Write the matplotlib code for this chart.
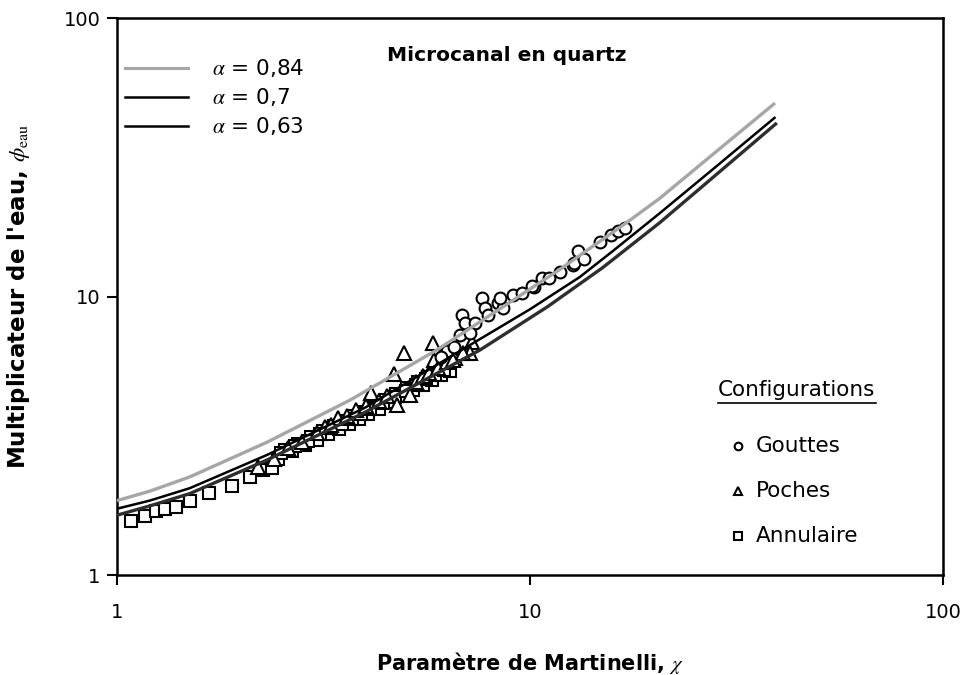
import matplotlib
matplotlib.use('Agg')
import matplotlib.pyplot as plt
from matplotlib.ticker import NullLocator, FixedLocator, FixedFormatter

plt.rcParams['font.family'] = ['DejaVu Sans']
plt.rcParams['mathtext.fontset'] = 'stix'

# ---- model curves ----
curve_labels = [r'$\alpha$ = 0,84', r'$\alpha$ = 0,7', r'$\alpha$ = 0,63']
x_084 = [1, 1.2, 1.5, 2.31, 3.67, 5.95, 8.5, 11.8, 17.2, 20.6, 28, 39.2]
y_084 = [1.85, 2.0, 2.25, 3.0, 4.25, 6.43, 9.08, 12.5, 18.5, 22.5, 32.8, 49.5]
x_070 = [1, 1.2, 1.5, 2.31, 4, 7.5, 10, 13.2, 15.9, 20.6, 28, 39.3]
y_070 = [1.73, 1.85, 2.05, 2.70, 4.0, 6.98, 9.0, 11.75, 14.6, 19.9, 29.0, 44.1]
x_063 = [1, 1.2, 1.5, 2.31, 4, 7.57, 11, 15, 20.6, 28, 39.6]
y_063 = [1.64, 1.77, 1.96, 2.59, 3.85, 6.43, 9.17, 12.7, 18.4, 27.1, 42.0]

# ---- measurements ----
config_labels = ['Gouttes', 'Poches', 'Annulaire']
x_gouttes = [6.83, 6.96, 7.36, 6.77, 7.16, 7.64, 7.78, 7.91, 8.37, 8.60, 9.10, 9.57,
             10.2, 10.7, 11.1, 11.8, 12.7, 12.8, 13.1, 13.5, 14.8, 15.7, 16.3, 17.0,
             10.1, 8.46, 6.3, 6.55, 6.1]
y_gouttes = [8.58, 8.01, 8.01, 7.28, 7.39, 9.85, 9.10, 8.58, 9.48, 9.10, 10.1, 10.3,
             10.8, 11.7, 11.7, 12.2, 13.0, 13.2, 14.6, 13.6, 15.7, 16.6, 17.2, 17.6,
             10.9, 9.85, 6.35, 6.6, 6.05]

x_poches = [4.95, 5.82, 4.69, 4.12, 5.86, 7.24, 7.16, 5.12, 4.76, 3.43, 3.19, 3.05,
            2.2, 2.4, 2.6, 2.8, 3.3, 3.6, 3.8, 4.0, 4.3, 4.5, 5.3, 5.5, 5.7, 6.0,
            6.3, 6.6, 6.9, 6.5]
y_poches = [6.27, 6.81, 5.27, 4.50, 5.92, 6.87, 6.27, 4.43, 4.08, 3.66, 3.40, 3.24,
            2.45, 2.62, 2.85, 3.0, 3.45, 3.72, 3.9, 4.05, 4.2, 4.4, 4.95, 5.2, 5.3, 5.55,
            5.8, 6.0, 6.25, 5.9]

x_annulaire = [1.08, 1.17, 1.24, 1.31, 1.39, 1.50, 1.67, 1.90, 2.10, 2.26, 2.37,
               2.45, 2.55, 2.65, 2.75, 2.85, 2.95, 3.05, 3.15, 3.25, 3.35, 3.45, 3.55,
               3.65, 3.75, 3.85, 3.95, 4.05, 4.15, 4.3, 4.45, 4.6, 4.75, 4.9, 5.05,
               5.2, 5.35, 5.5, 5.65, 5.8, 5.95, 6.1, 6.25, 6.4,
               2.5, 2.7, 2.9, 3.1, 3.3, 3.5, 3.7, 3.9, 4.1, 4.4, 4.7, 5.0, 5.3, 5.6,
               5.9, 6.2]
y_annulaire = [1.56, 1.63, 1.70, 1.73, 1.76, 1.85, 1.97, 2.09, 2.25, 2.38, 2.42,
               2.62, 2.80, 2.78, 2.96, 2.92, 3.12, 3.06, 3.28, 3.20, 3.42, 3.35, 3.58,
               3.50, 3.72, 3.62, 3.86, 3.78, 4.02, 3.96, 4.25, 4.18, 4.48, 4.40, 4.70,
               4.60, 4.92, 4.82, 5.12, 5.02, 5.34, 5.22, 5.52, 5.40,
               2.74, 2.90, 3.04, 3.20, 3.36, 3.50, 3.64, 3.80, 3.94, 4.14, 4.36, 4.58,
               4.80, 5.04, 5.24, 5.46]

x_ticks = [1, 10, 100]
y_ticks = [1, 10, 100]
tick_labels = ['1', '10', '100']

fig = plt.figure(figsize=(9.66, 6.75), dpi=100)
ax = fig.add_axes([0.1211, 0.1481, 0.8551, 0.8252])
ax.set_xscale('log')
ax.set_yscale('log')

mk = dict(linestyle='none', mfc='white', mec='black', mew=1.5, zorder=3)
ax.plot(x_annulaire, y_annulaire, marker='s', ms=8.5, **mk)
ax.plot(x_poches, y_poches, marker='^', ms=9.5, **mk)
ax.plot(x_gouttes, y_gouttes, marker='o', ms=8.5, **mk)

grey = '#a6a6a6'
ax.plot(x_084, y_084, color=grey, lw=2.4, zorder=4, solid_capstyle='butt')
ax.plot(x_063, y_063, color='#2e2e2e', lw=2.4, zorder=4, solid_capstyle='butt')
ax.plot(x_070, y_070, color='black', lw=1.8, zorder=5, solid_capstyle='butt')

ax.set_xlim(1, 100)
ax.set_ylim(1, 100)
for axis, t in ((ax.xaxis, x_ticks), (ax.yaxis, y_ticks)):
    axis.set_major_locator(FixedLocator(t))
    axis.set_major_formatter(FixedFormatter(tick_labels))
    axis.set_minor_locator(NullLocator())
ax.tick_params(axis='both', direction='out', length=7, width=1.5, labelsize=14)
ax.tick_params(axis='x', pad=13)
ax.tick_params(axis='y', pad=5)
for s in ax.spines.values():
    s.set_linewidth(1.8)

ax.set_xlabel(r'Paramètre de Martinelli, $\chi$', fontsize=15, fontweight='bold')
ax.xaxis.set_label_coords(0.5, -0.135)
ax.set_ylabel(r"Multiplicateur de l'eau, $\phi_{\mathrm{eau}}$", fontsize=16.5,
              fontweight='bold')
ax.yaxis.set_label_coords(-0.103, 0.5)

ax.text(0.327, 0.932, 'Microcanal en quartz', transform=ax.transAxes, fontsize=14.5,
        fontweight='bold', va='center', ha='left')

# legend of curves
leg_cols = [grey, 'black', 'black']
leg_y = [0.910, 0.858, 0.806]
for lab, c, yy in zip(curve_labels, leg_cols, leg_y):
    ax.plot([0.0097, 0.086], [yy, yy], transform=ax.transAxes, color=c,
            lw=2.2 if c == grey else 1.8, clip_on=False)
    ax.text(0.115, yy, lab, transform=ax.transAxes, fontsize=15.5, va='center', ha='left')

# legend of configurations
ax.text(0.7276, 0.332, 'Configurations', transform=ax.transAxes, fontsize=15.5,
        va='center', ha='left')
ax.plot([0.7276, 0.919], [0.309, 0.309], transform=ax.transAxes, color='black', lw=1.2)
conf_y = [0.2316, 0.1508, 0.070]
conf_mk = ['o', '^', 's']
for lab, m, yy in zip(config_labels, conf_mk, conf_y):
    ax.plot([0.752], [yy], marker=m, ms=5.5, mfc='white', mec='black', mew=1.5,
            transform=ax.transAxes, linestyle='none')
    ax.text(0.7736, yy, lab, transform=ax.transAxes, fontsize=15.5, va='center', ha='left')

fig.savefig('out.png', dpi=100)
